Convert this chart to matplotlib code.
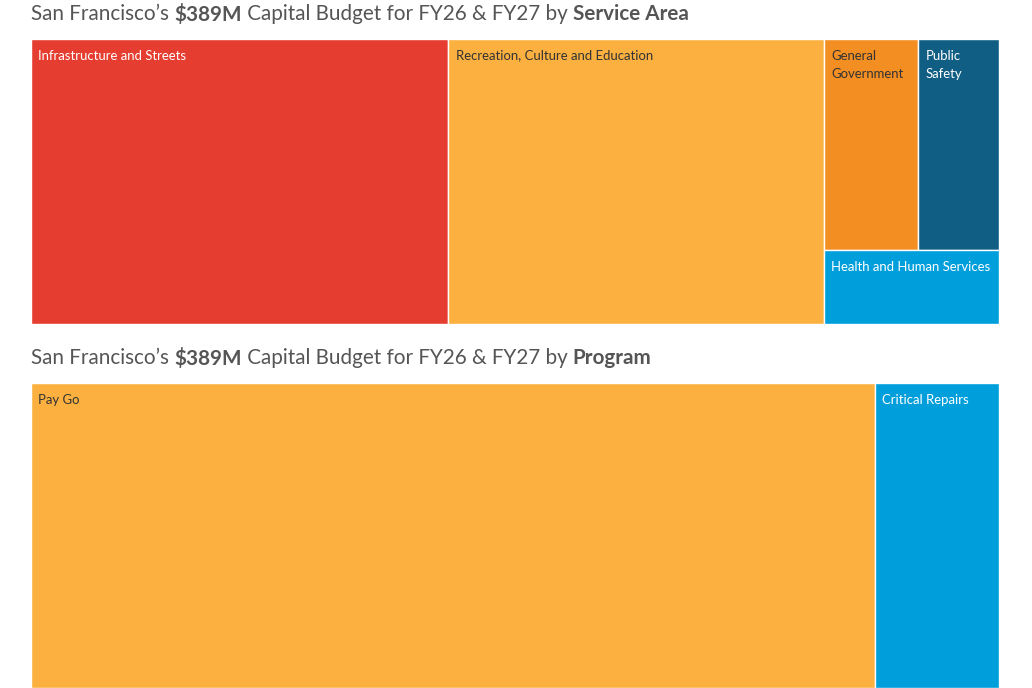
import matplotlib
matplotlib.use("Agg")
import matplotlib.pyplot as plt
from matplotlib.patches import Rectangle

# ---- data ----
area_names = ["Infrastructure and Streets", "Recreation, Culture and Education",
              "General\nGovernment", "Public\nSafety", "Health and Human Services"]
area_values = [168.0, 150.9, 28.0, 24.0, 18.2]
area_colors = ["#E53D30", "#FBB040", "#F28E22", "#115E84", "#009FDC"]
area_text = ["white", "#333333", "#333333", "white", "white"]

program_names = ["Pay Go", "Critical Repairs"]
program_values = [339.3, 49.7]
program_colors = ["#FBB040", "#009FDC"]
program_text = ["#333333", "white"]

total_label = "$389M"

# layout structure: columns -> rows -> items (indices)
area_layout = [[[0]], [[1]], [[2, 3], [4]]]
program_layout = [[[0]], [[1]]]

FONT = "Lato"
W, H = 1032, 688
fig = plt.figure(figsize=(W / 100, H / 100), dpi=100)
ax = fig.add_axes([0, 0, 1, 1])
ax.set_xlim(0, W)
ax.set_ylim(H, 0)
ax.axis("off")


def layout(values, structure, x0, y0, x1, y1):
    rects = {}
    total = sum(values)
    cx = x0
    for col in structure:
        csum = sum(values[i] for row in col for i in row)
        cw = (x1 - x0) * csum / total
        cy = y0
        for row in col:
            rsum = sum(values[i] for i in row)
            rh = (y1 - y0) * rsum / csum
            rx = cx
            for i in row:
                w = cw * values[i] / rsum
                rects[i] = (rx, cy, w, rh)
                rx += w
            cy += rh
        cx += cw
    return rects


def draw_tree(names, values, colors, tcolors, structure, box):
    rects = layout(values, structure, *box)
    for i, (x, y, w, h) in rects.items():
        ax.add_patch(Rectangle((x, y), w, h, facecolor=colors[i],
                               edgecolor="white", linewidth=1.0))
        ax.text(x + 7.5, y + 11, names[i], color=tcolors[i], fontsize=9.45,
                family=FONT, va="top", ha="left", linespacing=1.62)


def draw_title(parts, x, y):
    fig.canvas.draw()
    r = fig.canvas.get_renderer()
    cur = x
    inv = ax.transData.inverted()
    for txt, bold in parts:
        t = ax.text(cur, y, txt, fontsize=14.9, family=FONT, color="#555555",
                    fontweight="bold" if bold else "normal", va="baseline", ha="left")
        bb = t.get_window_extent(renderer=r)
        x0d = inv.transform((bb.x0, bb.y0))[0]
        x1d = inv.transform((bb.x1, bb.y0))[0]
        cur += (x1d - x0d)


draw_tree(area_names, area_values, area_colors, area_text, area_layout,
          (30.5, 38.5, 998.5, 323.5))
draw_tree(program_names, program_values, program_colors, program_text,
          program_layout, (30.5, 382.5, 998.5, 688))

draw_title([("San Francisco\u2019s ", False), (total_label, True),
            (" Capital Budget for FY26 & FY27 by ", False), ("Service Area", True)],
           31, 20.5)
draw_title([("San Francisco\u2019s ", False), (total_label, True),
            (" Capital Budget for FY26 & FY27 by ", False), ("Program", True)],
           31, 364.5)

fig.savefig("out.png", dpi=100, facecolor="white")
